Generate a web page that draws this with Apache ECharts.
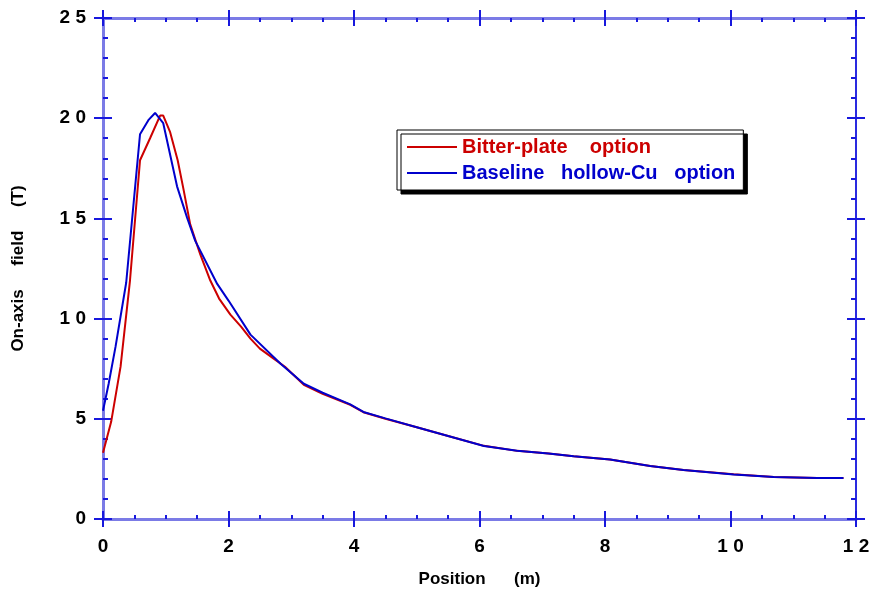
<!DOCTYPE html>
<html>
<head>
<meta charset="utf-8">
<script src="https://cdn.jsdelivr.net/npm/echarts@6/dist/echarts.min.js"></script>
<style>
  html, body { margin: 0; padding: 0; background: #fff; }
  #chart { width: 875px; height: 593px; }
</style>
</head>
<body>
<div id="chart"></div>
<script>
  // values
  const bitterPos = [0, 0.13, 0.28, 0.43, 0.59, 0.75, 0.91, 0.96, 1.07, 1.19, 1.28, 1.39, 1.55, 1.71, 1.85, 2.03, 2.2, 2.35, 2.5, 2.72, 2.9, 3.2, 3.5, 3.94, 4.15, 4.5, 5.0, 5.5, 6.07, 6.6, 7.1, 7.5, 8.08, 8.72, 9.25, 10.05, 10.69, 11.38, 11.8]
  const bitterField = [3.3, 4.85, 7.6, 11.9, 17.9, 19.0, 20.13, 20.13, 19.3, 17.9, 16.5, 14.7, 13.2, 11.9, 11.0, 10.2, 9.6, 9.0, 8.5, 8.0, 7.6, 6.7, 6.25, 5.7, 5.33, 5.0, 4.58, 4.14, 3.65, 3.4, 3.27, 3.13, 2.97, 2.64, 2.44, 2.23, 2.1, 2.04, 2.04]
  const basePos = [0, 0.09, 0.2, 0.37, 0.59, 0.73, 0.83, 0.96, 1.18, 1.34, 1.47, 1.82, 2.0, 2.35, 2.83, 3.2, 3.5, 3.94, 4.15, 4.5, 5.0, 5.5, 6.07, 6.6, 7.1, 7.5, 8.08, 8.72, 9.25, 10.05, 10.69, 11.38, 11.8]
  const baseField = [5.4, 6.75, 8.6, 11.8, 19.2, 19.93, 20.26, 19.75, 16.6, 15.04, 13.88, 11.73, 10.9, 9.2, 7.75, 6.75, 6.3, 5.72, 5.34, 5.02, 4.58, 4.14, 3.64, 3.4, 3.27, 3.13, 2.97, 2.64, 2.44, 2.22, 2.1, 2.04, 2.04]
  const xTicks = [0, 2, 4, 6, 8, 10, 12]
  const yTicks = [0, 5, 10, 15, 20, 25]

  const chart = echarts.init(document.getElementById('chart'))
  const lineCol = '#7b7be6'
  const tickCol = '#1818dd'
  const font = { color: '#000', fontWeight: 'bold', fontFamily: 'Liberation Sans' }
  const spaced = v => String(v).split('').join(' ')
  const zip = (a, b) => a.map((x, i) => [x, b[i]])
  const box = { left: 103, right: 19, top: 18, bottom: 74 }

  // grid 0: axis lines, inside ticks, labels.  grid 1: outside half of the major ticks
  const xAx = (grid, pos, labels, inner) => ({
    type: 'value', gridIndex: grid, position: pos, min: xTicks[0], max: xTicks[xTicks.length - 1], interval: 2,
    splitLine: { show: false },
    axisLine: { show: inner, onZero: false, lineStyle: { color: lineCol, width: 3 } },
    axisTick: { show: true, inside: inner, length: 8, lineStyle: { color: tickCol, width: 2 } },
    minorTick: { show: inner, splitNumber: 4, length: 4, lineStyle: { color: tickCol, width: 2 } },
    axisLabel: { show: labels, margin: 18, fontSize: 19, formatter: spaced, ...font },
    name: labels ? 'Position      (m)' : '', nameLocation: 'middle', nameGap: 52,
    nameTextStyle: { fontSize: 17, ...font }
  })
  const yAx = (grid, pos, labels, inner) => ({
    type: 'value', gridIndex: grid, position: pos, min: yTicks[0], max: yTicks[yTicks.length - 1], interval: 5,
    splitLine: { show: false },
    axisLine: { show: inner, onZero: false, lineStyle: { color: pos === 'left' ? lineCol : '#2a2ae0', width: pos === 'left' ? 3 : 2 } },
    axisTick: { show: true, inside: inner, length: 9, lineStyle: { color: tickCol, width: 2 } },
    minorTick: { show: inner, splitNumber: 5, length: 5, lineStyle: { color: tickCol, width: 2 } },
    axisLabel: { show: labels, margin: 17, fontSize: 19, formatter: spaced, ...font },
    name: labels ? 'On-axis     field     (T)' : '', nameLocation: 'middle', nameGap: 76, nameRotate: 90,
    nameTextStyle: { fontSize: 17, ...font }
  })

  const option = {
    backgroundColor: '#fff',
    animation: false,
    grid: [box, box],
    legend: {
      orient: 'vertical', left: 397, top: 130,
      padding: [7, 8, 7, 10], itemGap: 6, itemWidth: 50, itemHeight: 2, icon: 'rect',
      backgroundColor: '#fff', borderColor: '#000', borderWidth: 1,
      shadowColor: '#000', shadowBlur: 0, shadowOffsetX: 4, shadowOffsetY: 4,
      textStyle: { fontSize: 20, lineHeight: 20, fontWeight: 'bold', fontFamily: 'Liberation Sans' },
      data: [
        { name: 'Bitter-plate    option', textStyle: { color: '#cc0000' } },
        { name: 'Baseline   hollow-Cu   option', textStyle: { color: '#0000cc' } }
      ]
    },
    xAxis: [xAx(0, 'bottom', true, true), xAx(0, 'top', false, true), xAx(1, 'bottom', false, false), xAx(1, 'top', false, false)],
    yAxis: [yAx(0, 'left', true, true), yAx(0, 'right', false, true), yAx(1, 'left', false, false), yAx(1, 'right', false, false)],
    series: [
      { name: 'Bitter-plate    option', type: 'line', symbol: 'none', data: zip(bitterPos, bitterField),
        lineStyle: { color: '#cc0000', width: 2 }, itemStyle: { color: '#cc0000' } },
      { name: 'Baseline   hollow-Cu   option', type: 'line', symbol: 'none', data: zip(basePos, baseField),
        lineStyle: { color: '#0000cc', width: 2 }, itemStyle: { color: '#0000cc' } }
    ]
  }
  chart.setOption(option)
</script>
</body>
</html>
